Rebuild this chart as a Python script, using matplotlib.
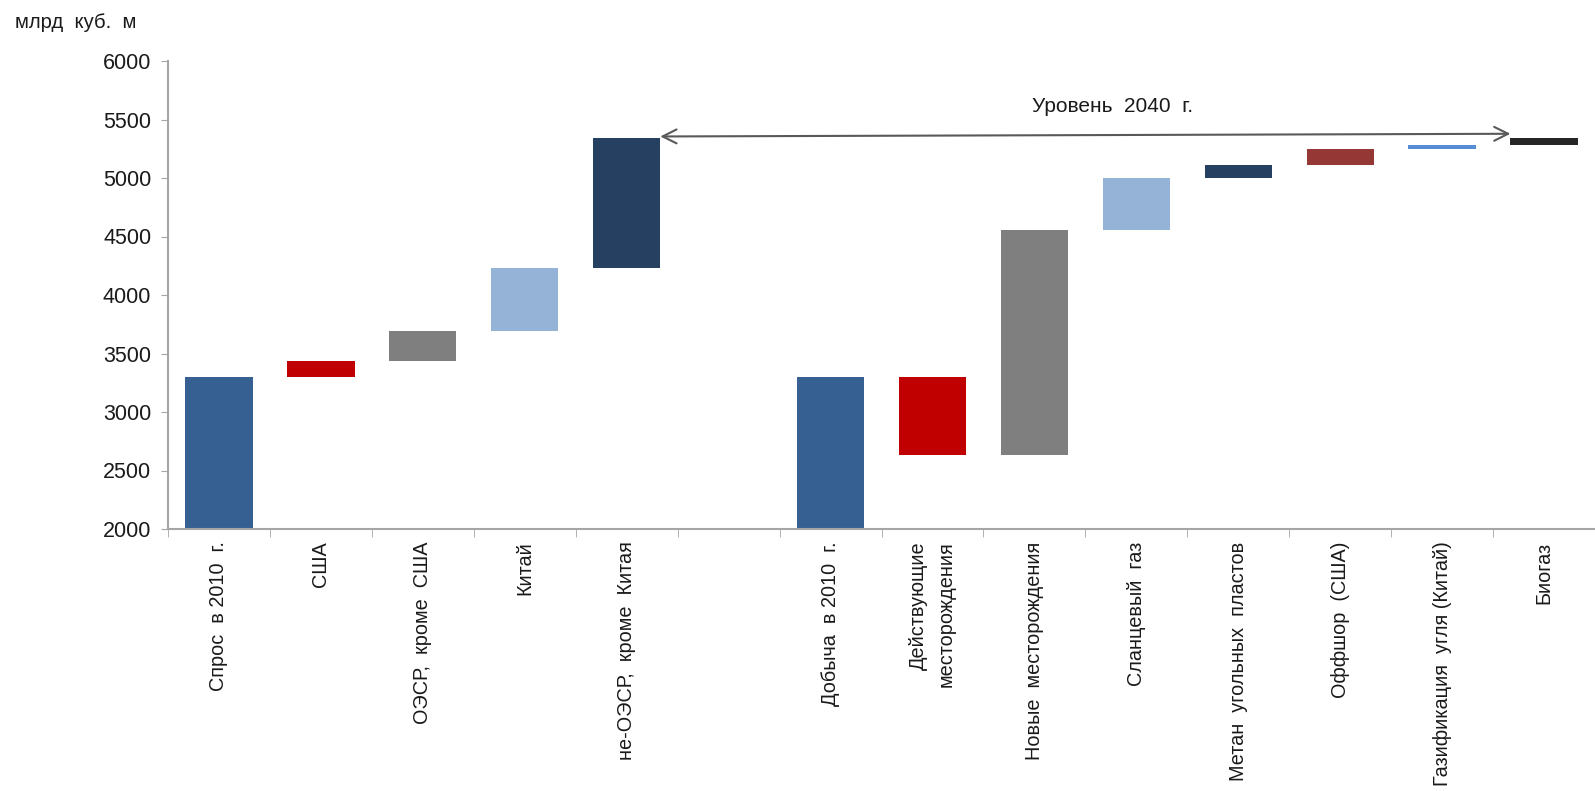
import numpy as np
import matplotlib
matplotlib.use("Agg")
from matplotlib import pyplot as plt

plt.rcParams['font.family'] = ['Liberation Sans', 'DejaVu Sans']

# categories (empty slot separates demand and supply)
labels = ["Спрос  в 2010  г.", "США", "ОЭСР,  кроме  США", "Китай",
          "не-ОЭСР,  кроме  Китая", "",
          "Добыча  в 2010  г.", "Действующие\nместорождения",
          "Новые  месторождения", "Сланцевый  газ",
          "Метан  угольных  пластов", "Оффшор  (США)",
          "Газификация  угля (Китай)", "Биогаз"]

demand_start = 3300
demand_deltas = [140, 250, 545, 1105]
supply_start = 3300
supply_deltas = [-665, 1920, 445, 110, 135, 40, 55]

demand_colors = ["#376092", "#C00000", "#7F7F7F", "#95B3D7", "#254061"]
supply_colors = ["#376092", "#C00000", "#7F7F7F", "#95B3D7", "#254061",
                 "#953735", "#558ED5", "#262626"]

fig = plt.figure(figsize=(15.95, 7.91), dpi=100)
ax = fig.add_axes([168/1595, 1-529/791, 1-168/1595, (529-61)/791])

def waterfall(start, deltas, x0, colors):
    bottoms = [2000]
    heights = [start - 2000]
    level = start
    for d in deltas:
        bottoms.append(min(level, level + d))
        heights.append(abs(d))
        level += d
    xs = np.arange(x0, x0 + len(heights))
    ax.bar(xs, heights, bottom=bottoms, width=0.66, color=colors, zorder=2)
    return level

waterfall(demand_start, demand_deltas, 0, demand_colors)
waterfall(supply_start, supply_deltas, 6, supply_colors)

ax.set_ylim(2000, 6000)
ax.set_xlim(-0.5, 13.45)
ax.set_yticks(np.arange(2000, 6001, 500))
ax.tick_params(axis='y', direction='out', length=5, color='#A6A6A6',
               labelsize=15.5, labelcolor='#1a1a1a', pad=7)

ax.set_xticks(range(len(labels)))
ax.set_xticklabels(labels, rotation=90, fontsize=14.3, color='#1a1a1a',
                   multialignment='right')
ax.get_xticklabels()[7].set_linespacing(1.55)
ax.set_xticks(np.arange(-0.5, 13.6, 1), minor=True)
ax.tick_params(axis='x', which='major', length=0, pad=9)
ax.tick_params(axis='x', which='minor', length=6, color='#A6A6A6')

for s in ['top', 'right']:
    ax.spines[s].set_visible(False)
for s in ['left', 'bottom']:
    ax.spines[s].set_color('#A6A6A6')
    ax.spines[s].set_linewidth(1.5)

# level 2040 arrow
ax.annotate("", xy=(12.67, 5378), xytext=(4.33, 5355),
            arrowprops=dict(arrowstyle='<->', color='#595959', lw=1.5,
                            mutation_scale=25, shrinkA=0, shrinkB=0),
            zorder=3)
ax.text(8.77, 5615, "Уровень  2040  г.", ha='center', va='center',
        fontsize=15, color='#1a1a1a')

fig.text(15/1595, 1-22/791, "млрд  куб.  м", ha='left', va='center',
         fontsize=14.6, color='#1a1a1a')

fig.savefig('out.png', dpi=100)
